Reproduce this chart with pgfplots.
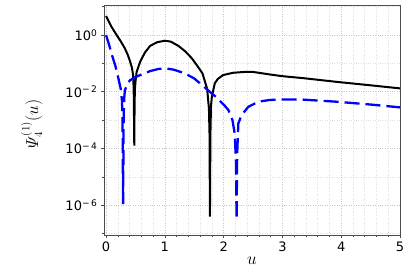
\documentclass[border=0pt]{standalone}
\usepackage{fontspec}
\setmainfont{DejaVu Sans}
\usepackage{amsmath}
\usepackage{pgfplots}
\pgfplotsset{compat=1.18}
\begin{document}
\begin{tikzpicture}
\begin{axis}[
  name=ax,
  scale only axis,
  width=296pt, height=230pt,
  xmin=-0.035, xmax=5.0,
  ymode=log,
  ymin=8.9e-8, ymax=11.5,
  xtick={0,1,2,3,4,5},
  xticklabels={0,1,2,3,4,5},
  minor x tick num=4,
  ytick={1e-6,1e-4,1e-2,1},
  yticklabels={10\textsuperscript{−\,6},10\textsuperscript{−\,4},10\textsuperscript{−\,2},10\textsuperscript{0}},
  minor ytick={1e-7,1e-5,1e-3,1e-1,10},
  tick align=outside,
  tick pos=left,
  major tick length=3pt,
  minor tick length=2pt,
  tick style={color=black!70, line width=0.6pt},
  grid=both,
  major grid style={gray!45, dotted, line width=0.6pt},
  minor grid style={gray!25, dotted, line width=0.5pt},
  axis line style={black!70, line width=0.7pt},
  ticklabel style={font=\fontsize{13}{15}\selectfont},
  xlabel={$u$},
  xlabel style={font=\fontsize{17}{19}\selectfont, at={(axis description cs:0.5,0)}, anchor=north, yshift=-19pt},
  ylabel={$\varPsi^{(1)}_{4}(u)$},
  ylabel style={font=\fontsize{16}{18}\selectfont, at={(axis description cs:0,0.5)}, anchor=south, xshift=-4pt, yshift=58pt},
  clip=true,
]
\addplot[black, line width=2pt] coordinates {
(0.00,4.68) (0.09,2.00) (0.18,1.0) (0.25,0.603) (0.32,0.339) (0.37,0.200)
(0.41,0.115) (0.44,0.0708) (0.46,0.0389) (0.47,0.0126) (0.475,1.58e-3)
(0.48,1.26e-4) (0.485,3.16e-3) (0.49,0.0112) (0.50,0.0224) (0.52,0.0501)
(0.58,0.115) (0.66,0.240) (0.75,0.417) (0.87,0.562) (1.00,0.631)
(1.10,0.589) (1.23,0.417) (1.35,0.263) (1.46,0.151) (1.55,0.0832)
(1.64,0.0447) (1.72,0.0126) (1.75,2.51e-3) (1.76,3.16e-4) (1.767,3.98e-7)
(1.775,3.16e-4) (1.785,3.16e-3) (1.80,6.76e-3) (1.85,0.0200) (1.90,0.0282)
(1.99,0.0389) (2.16,0.0468) (2.35,0.0501) (2.50,0.0501) (2.63,0.0457)
(2.79,0.0407) (3.00,0.0355) (3.36,0.0302) (3.92,0.0224) (4.49,0.0170)
(5.00,0.0132)
};
\addplot[blue, line width=2.3pt, dash pattern=on 15pt off 6pt] coordinates {
(0.00,1.0) (0.05,0.468) (0.10,0.200) (0.16,0.0794) (0.21,0.0295)
(0.25,0.0126) (0.27,5.01e-3) (0.28,1.26e-3) (0.29,1.1e-6) (0.30,1.58e-3)
(0.31,6.31e-3) (0.32,0.0112) (0.36,0.0191) (0.41,0.0257) (0.49,0.0324)
(0.58,0.0389) (0.75,0.0537) (0.88,0.0631) (1.00,0.0676) (1.15,0.0603)
(1.34,0.0447) (1.50,0.0295) (1.63,0.0174) (1.80,8.71e-3) (1.88,6.31e-3)
(2.00,3.55e-3) (2.08,2.29e-3) (2.15,1.0e-3) (2.19,3.16e-4) (2.21,3.16e-5)
(2.22,3.16e-7) (2.23,6.31e-5) (2.25,7.59e-4) (2.29,1.26e-3) (2.33,1.74e-3)
(2.42,2.95e-3) (2.59,4.47e-3) (2.78,5.13e-3) (2.96,5.37e-3) (3.30,5.37e-3)
(3.92,4.47e-3) (4.50,3.55e-3) (5.00,2.82e-3)
};
\end{axis}
\path[use as bounding box] ([shift={(-104pt,-38pt)}]ax.south west) rectangle ([shift={(9pt,5pt)}]ax.north east);
\end{tikzpicture}
\end{document}
